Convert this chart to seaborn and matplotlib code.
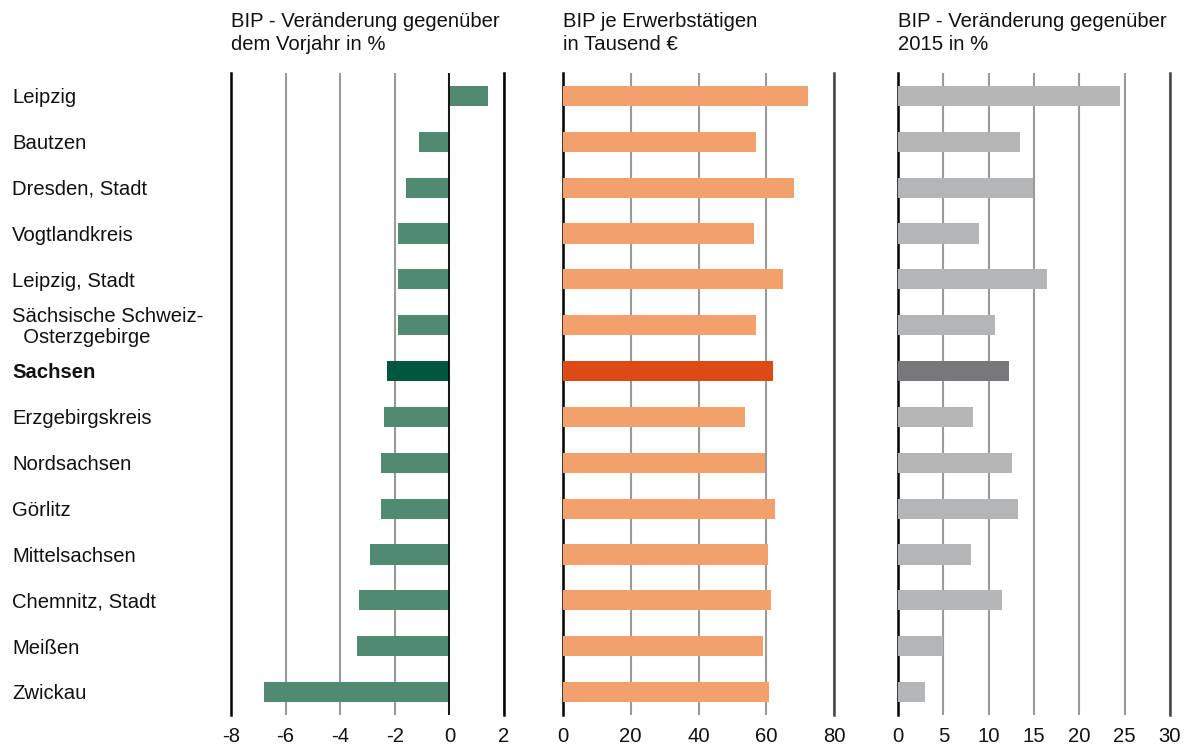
import matplotlib
matplotlib.use("Agg")
import matplotlib.pyplot as plt
import matplotlib.transforms as mtransforms
import seaborn as sns

regionen = ["Leipzig", "Bautzen", "Dresden, Stadt", "Vogtlandkreis", "Leipzig, Stadt",
            "Sächsische Schweiz-\n  Osterzgebirge", "Sachsen", "Erzgebirgskreis",
            "Nordsachsen", "Görlitz", "Mittelsachsen", "Chemnitz, Stadt", "Meißen", "Zwickau"]

bip_vorjahr = [1.4, -1.1, -1.6, -1.9, -1.9, -1.9, -2.3, -2.4, -2.5, -2.5, -2.9, -3.3, -3.4, -6.8]
bip_je_erwerbstaetigen = [72.2, 56.9, 68.2, 56.4, 64.8, 56.9, 61.9, 53.6, 59.5, 62.7, 60.6, 61.4, 59.0, 60.9]
bip_seit_2015 = [24.5, 13.5, 14.9, 8.9, 16.4, 10.7, 12.2, 8.3, 12.6, 13.2, 8.1, 11.5, 5.0, 3.0]

titel = ["BIP - Veränderung gegenüber\ndem Vorjahr in %",
         "BIP je Erwerbstätigen\nin Tausend €",
         "BIP - Veränderung gegenüber\n2015 in %"]

ticks = [[-8, -6, -4, -2, 0, 2],
         [0, 20, 40, 60, 80],
         [0, 5, 10, 15, 20, 25, 30]]

farben = [("#508A70", "#00573F"), ("#F2A06C", "#DE4A14"), ("#B4B5B7", "#78787A")]
highlight = "Sachsen"

sns.set_theme(style="white")
plt.rcParams["font.family"] = ["Liberation Sans", "DejaVu Sans"]

W, H = 1187, 749
fig = plt.figure(figsize=(W / 100, H / 100), dpi=100)

pos = [(231, 504), (563, 834), (898, 1170)]
top, bottom = 73, 715
daten = [bip_vorjahr, bip_je_erwerbstaetigen, bip_seit_2015]
fs = 14.6

axes = []
for i, (x0, x1) in enumerate(pos):
    ax = fig.add_axes([x0 / W, 1 - bottom / H, (x1 - x0) / W, (bottom - top) / H])
    normal, dunkel = farben[i]
    pal = {r: (dunkel if r == highlight else normal) for r in regionen}
    sns.barplot(x=daten[i], y=regionen, hue=regionen, palette=pal, legend=False,
                orient="h", width=0.44, linewidth=0, saturation=1, ax=ax, zorder=3)
    ax.set_xlim(ticks[i][0], ticks[i][-1])
    ax.set_ylim(13.5, -0.5)
    ax.set_xticks(ticks[i])
    ax.set_xticklabels([str(t) for t in ticks[i]], fontsize=fs, color="#111111")
    ax.tick_params(axis="x", length=0, pad=9)
    ax.set_yticks([])
    ax.set_xlabel("")
    ax.set_ylabel("")
    ax.grid(axis="x", color="#9A9A9A", linewidth=1.5, zorder=1)
    ax.set_axisbelow(True)
    for s in ["top", "bottom"]:
        ax.spines[s].set_visible(False)
    ax.spines["left"].set_color("#000000")
    ax.spines["left"].set_linewidth(1.8)
    ax.spines["right"].set_color("#000000" if i == 0 else "#444444")
    ax.spines["right"].set_linewidth(1.8)
    if i == 0:
        ax.axvline(0, color="#000000", linewidth=1.2, zorder=4)
    fig.text(x0 / W, 1 - 12 / H, titel[i], ha="left", va="top", fontsize=fs,
             color="#111111", linespacing=1.25)
    axes.append(ax)

# Regionsnamen links, an den Balkenpositionen ausgerichtet
trans = mtransforms.blended_transform_factory(fig.transFigure, axes[0].transData)
for j, r in enumerate(regionen):
    axes[0].text(12 / W, j + 0.04, r, transform=trans, ha="left", va="center", fontsize=fs,
                 color="#111111", fontweight="bold" if r == highlight else "normal",
                 linespacing=1.1)

fig.savefig("out.png", dpi=100)
